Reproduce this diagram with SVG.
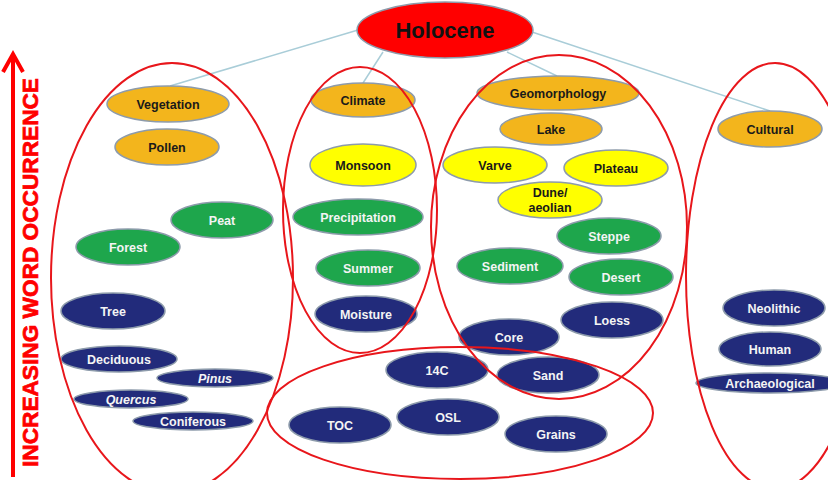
<svg xmlns="http://www.w3.org/2000/svg" width="828" height="480" viewBox="0 0 828 480">
<style>
text{font-family:"Liberation Sans",Arial,sans-serif;font-weight:bold;text-anchor:middle}
.n ellipse{stroke:#8d9bab;stroke-width:1.5}
.red ellipse{fill:#ff0000}
.org ellipse{fill:#f3b51c}
.yel ellipse{fill:#ffff00}
.grn ellipse{fill:#1ea64c}
.nav ellipse{fill:#222b7b}
.org text,.yel text{fill:#1a1a1a;font-size:12.5px}
.grn text,.nav text{fill:#f4f4f4;font-size:12.5px}
.red text{fill:#111;font-size:22px}
.it{font-style:italic}
.cluster{fill:none;stroke:#e8161b;stroke-width:2}
.conn{stroke:#a9cdd8;stroke-width:1.5;fill:none}
</style>
<rect width="828" height="480" fill="#ffffff"/>
<g id="connectors">
<line class="conn" x1="358" y1="30" x2="170" y2="86"/>
<line class="conn" x1="383" y1="52" x2="363" y2="83"/>
<line class="conn" x1="507" y1="52" x2="557" y2="76"/>
<line class="conn" x1="532" y1="32" x2="770" y2="111"/>
</g>
<g id="holocene" class="n red"><ellipse cx="445" cy="30" rx="88" ry="28"/><text x="445" y="38">Holocene</text></g>
<g id="vegetation" class="n org"><ellipse cx="168" cy="104" rx="61" ry="18"/><text x="168" y="108.5">Vegetation</text></g>
<g id="pollen" class="n org"><ellipse cx="167" cy="147" rx="52" ry="18"/><text x="167" y="151.5">Pollen</text></g>
<g id="climate" class="n org"><ellipse cx="363" cy="100" rx="52" ry="17"/><text x="363" y="104.5">Climate</text></g>
<g id="geomorphology" class="n org"><ellipse cx="558" cy="93" rx="81" ry="17"/><text x="558" y="97.5">Geomorphology</text></g>
<g id="lake" class="n org"><ellipse cx="551" cy="129" rx="51" ry="16"/><text x="551" y="133.5">Lake</text></g>
<g id="cultural" class="n org"><ellipse cx="770" cy="129" rx="52" ry="18"/><text x="770" y="133.5">Cultural</text></g>
<g id="monsoon" class="n yel"><ellipse cx="363" cy="165" rx="53" ry="21"/><text x="363" y="169.5">Monsoon</text></g>
<g id="varve" class="n yel"><ellipse cx="495" cy="165" rx="52" ry="18"/><text x="495" y="169.5">Varve</text></g>
<g id="plateau" class="n yel"><ellipse cx="616" cy="168" rx="52" ry="18"/><text x="616" y="172.5">Plateau</text></g>
<g id="dune-aeolian" class="n yel"><ellipse cx="550" cy="200" rx="52" ry="18"/><text x="550" y="197">Dune/</text><text x="550" y="212">aeolian</text></g>
<g id="peat" class="n grn"><ellipse cx="222" cy="220" rx="51" ry="18"/><text x="222" y="224.5">Peat</text></g>
<g id="forest" class="n grn"><ellipse cx="128" cy="247" rx="52" ry="18"/><text x="128" y="251.5">Forest</text></g>
<g id="precipitation" class="n grn"><ellipse cx="358" cy="217" rx="65" ry="18"/><text x="358" y="221.5">Precipitation</text></g>
<g id="steppe" class="n grn"><ellipse cx="609" cy="236" rx="52" ry="18"/><text x="609" y="240.5">Steppe</text></g>
<g id="sediment" class="n grn"><ellipse cx="510" cy="266" rx="53" ry="18"/><text x="510" y="270.5">Sediment</text></g>
<g id="desert" class="n grn"><ellipse cx="621" cy="277" rx="52" ry="18"/><text x="621" y="281.5">Desert</text></g>
<g id="summer" class="n grn"><ellipse cx="368" cy="268" rx="52" ry="18"/><text x="368" y="272.5">Summer</text></g>
<g id="tree" class="n nav"><ellipse cx="113" cy="311" rx="52" ry="18"/><text x="113" y="315.5">Tree</text></g>
<g id="moisture" class="n nav"><ellipse cx="366" cy="314" rx="51" ry="18"/><text x="366" y="318.5">Moisture</text></g>
<g id="loess" class="n nav"><ellipse cx="612" cy="320" rx="51" ry="18"/><text x="612" y="324.5">Loess</text></g>
<g id="core" class="n nav"><ellipse cx="509" cy="337" rx="50" ry="18"/><text x="509" y="341.5">Core</text></g>
<g id="deciduous" class="n nav"><ellipse cx="119" cy="359" rx="58" ry="13"/><text x="119" y="363.5">Deciduous</text></g>
<g id="pinus" class="n nav"><ellipse cx="215" cy="378" rx="58" ry="9"/><text class="it" x="215" y="382.5">Pinus</text></g>
<g id="quercus" class="n nav"><ellipse cx="131" cy="399" rx="57" ry="9"/><text class="it" x="131" y="403.5">Quercus</text></g>
<g id="coniferous" class="n nav"><ellipse cx="193" cy="421" rx="60" ry="9"/><text x="193" y="425.5">Coniferous</text></g>
<g id="c14" class="n nav"><ellipse cx="437" cy="370" rx="51" ry="18"/><text x="437" y="374.5">14C</text></g>
<g id="sand" class="n nav"><ellipse cx="548" cy="375" rx="51" ry="18"/><text x="548" y="379.5">Sand</text></g>
<g id="toc" class="n nav"><ellipse cx="340" cy="425" rx="51" ry="18"/><text x="340" y="429.5">TOC</text></g>
<g id="osl" class="n nav"><ellipse cx="448" cy="417" rx="51" ry="18"/><text x="448" y="421.5">OSL</text></g>
<g id="grains" class="n nav"><ellipse cx="556" cy="434" rx="51" ry="18"/><text x="556" y="438.5">Grains</text></g>
<g id="neolithic" class="n nav"><ellipse cx="774" cy="308" rx="51" ry="18"/><text x="774" y="312.5">Neolithic</text></g>
<g id="human" class="n nav"><ellipse cx="770" cy="349" rx="51" ry="17"/><text x="770" y="353.5">Human</text></g>
<g id="archaeological" class="n nav"><ellipse cx="770" cy="383" rx="74" ry="10"/><text x="770" y="387.5">Archaeological</text></g>
<g id="clusters">
<ellipse class="cluster" cx="172" cy="278" rx="121" ry="215"/>
<ellipse class="cluster" cx="360" cy="210" rx="77" ry="143"/>
<ellipse class="cluster" cx="559" cy="227" rx="128" ry="172"/>
<ellipse class="cluster" cx="775" cy="276" rx="89" ry="213"/>
<ellipse class="cluster" cx="460" cy="413" rx="193" ry="66"/>
</g>
<g id="axis">
<line x1="13" y1="477" x2="13" y2="56" stroke="#ff0000" stroke-width="4"/>
<polyline points="3,72 13,54 23,72" fill="none" stroke="#ff0000" stroke-width="4" stroke-linejoin="miter"/>
<text transform="translate(38,272.5) rotate(-90)" font-size="22" fill="#ff0000" stroke="#ff0000" stroke-width="0.7" textLength="389" lengthAdjust="spacingAndGlyphs">INCREASING WORD OCCURRENCE</text>
</g>
</svg>
